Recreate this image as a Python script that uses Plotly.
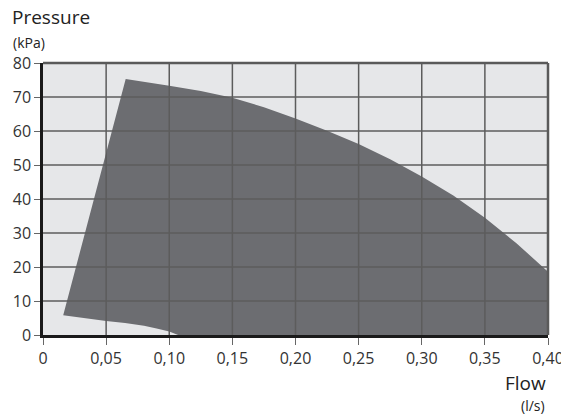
import plotly.graph_objects as go

# Upper operating limit (pump curve)
top_flow = [0.0655, 0.10, 0.125, 0.15, 0.175, 0.20, 0.225, 0.25, 0.275, 0.30, 0.325, 0.35, 0.375, 0.40]
top_pressure = [75.3, 73.3, 71.8, 69.8, 67.0, 63.7, 60.1, 56.2, 51.7, 46.6, 41.0, 34.5, 27.0, 18.6]
# Lower limit
bottom_flow = [0.107, 0.100, 0.090, 0.080, 0.065, 0.050, 0.016]
bottom_pressure = [0.0, 1.0, 1.9, 2.7, 3.5, 4.1, 5.8]
# closing corner at right edge
corner_flow = [0.40]
corner_pressure = [0.0]

x_ticks = [0, 0.05, 0.10, 0.15, 0.20, 0.25, 0.30, 0.35, 0.40]
x_tick_labels = ["0", "0,05", "0,10", "0,15", "0,20", "0,25", "0,30", "0,35", "0,40"]
y_ticks = [0, 10, 20, 30, 40, 50, 60, 70, 80]

xs = [bottom_flow[-1]] + top_flow + corner_flow + bottom_flow
ys = [bottom_pressure[-1]] + top_pressure + corner_pressure + bottom_pressure

fig = go.Figure()
fig.add_trace(go.Scatter(x=xs, y=ys, fill="toself", fillcolor="#6c6d71",
                         line=dict(width=0, color="#6c6d71"), mode="lines",
                         hoverinfo="skip", showlegend=False))

shapes = []
grid = "#5c5c5c"
for xv in x_ticks[1:-1]:
    shapes.append(dict(type="line", xref="x", yref="paper", x0=xv, x1=xv, y0=0, y1=1,
                       line=dict(color=grid, width=1.5), layer="above"))
for yv in y_ticks[1:-1]:
    shapes.append(dict(type="line", xref="paper", yref="y", x0=0, x1=1, y0=yv, y1=yv,
                       line=dict(color=grid, width=1.5), layer="above"))
# top and right border
shapes.append(dict(type="line", xref="paper", yref="paper", x0=0, x1=1, y0=1, y1=1,
                   line=dict(color="#5a5a5a", width=2.5), layer="above"))
shapes.append(dict(type="line", xref="paper", yref="paper", x0=1, x1=1, y0=0, y1=1,
                   line=dict(color="#5a5a5a", width=2.5), layer="above"))

font = "Open Sans, Noto Sans, sans-serif"

# The page body has an 8px margin, so the figure is 8px smaller and all
# pixel positions are offset by 8.
OFF = 8
W, H = 569 - OFF, 416 - OFF
pl, pr, pt, pb = 43 - OFF, 548 - OFF, 63 - OFF, 335 - OFF
ann_specs = [("Pressure", 10, 17, "left", 19), ("(kPa)", 11, 42, "left", 14),
             ("Flow", 548, 383, "right", 19), ("(l/s)", 547, 405, "right", 14)]
anns = []
for txt, px, py, anchor, size in ann_specs:
    px -= OFF
    py -= OFF
    anns.append(dict(text=txt, xref="paper", yref="paper",
                     x=(px - pl) / (pr - pl), y=(pb - py) / (pb - pt),
                     xanchor=anchor, yanchor="middle", showarrow=False,
                     font=dict(size=size, color="#222222", family=font)))

fig.update_layout(
    width=W, height=H,
    margin=dict(l=pl, r=W - pr, t=pt, b=H - pb, autoexpand=False),
    paper_bgcolor="white", plot_bgcolor="#e6e7e9",
    font=dict(family=font, size=16, color="#333333"),
    shapes=shapes,
    annotations=anns,
    xaxis=dict(range=[0, 0.40], tickvals=x_ticks, ticktext=x_tick_labels,
               showgrid=False, zeroline=False, showline=True, linecolor="#1a1a1a",
               linewidth=2.5, ticks="outside", ticklen=7, tickcolor="#666666",
               tickwidth=1, tickfont=dict(size=16, color="#333333"),
               layer="above traces", automargin=False, fixedrange=True),
    yaxis=dict(range=[0, 80], tickvals=y_ticks, showgrid=False, zeroline=False,
               showline=True, linecolor="#1a1a1a", linewidth=2.5, ticks="outside",
               ticklen=6, tickcolor="#666666", tickwidth=1,
               tickfont=dict(size=16, color="#333333"), layer="above traces",
               automargin=False, fixedrange=True),
)

fig.write_html("out.html")
